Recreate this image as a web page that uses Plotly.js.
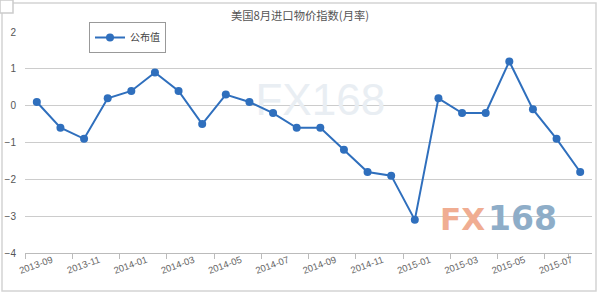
<!DOCTYPE html>
<html><head><meta charset="utf-8">
<script src="https://cdn.plot.ly/plotly-3.0.1.min.js"></script>
<style>html,body{margin:0;padding:0;background:#fff}#c{width:600px;height:296px}</style>
</head><body><div id="c"></div>
<script>
const categories = ["2013-09","2013-10","2013-11","2013-12","2014-01","2014-02","2014-03","2014-04","2014-05","2014-06","2014-07","2014-08","2014-09","2014-10","2014-11","2014-12","2015-01","2015-02","2015-03","2015-04","2015-05","2015-06","2015-07","2015-08"];
const values = [0.1,-0.6,-0.9,0.2,0.4,0.9,0.4,-0.5,0.3,0.1,-0.2,-0.6,-0.6,-1.2,-1.8,-1.9,-3.1,0.2,-0.2,-0.2,1.2,-0.1,-0.9,-1.8];
const seriesName = "公布值";
const titleText = "美国8月进口物价指数(月率)";
const yTicks = [-4,-3,-2,-1,0,1,2];
const watermark = "FX168";

const tickCats = categories.filter((c,i)=>i%2===0);
const W = 567, H = 221;
const wmTrace = {
  type:"scatter", mode:"text", x:["2014-09"], y:[0.05], text:[watermark],
  showlegend:false, hoverinfo:"skip",
  textfont:{family:"Liberation Sans, Arial, sans-serif", size:44, color:"#e9eef3"}
};
const trace = {
  type:"scatter", mode:"lines+markers", x:categories, y:values, name:seriesName,
  line:{color:"#2f6fbd", width:2}, marker:{color:"#2f6fbd", size:8}
};
const logoFont = (c)=>({family:"DejaVu Sans, sans-serif", size:31, weight:"bold", color:c});
const logoY = (253-218.5)/H;
const px = (p)=>(p-25)/W;
const layout = {
  width:600, height:296, margin:{l:25,r:8,t:32,b:43, autoexpand:false},
  paper_bgcolor:"#fff", plot_bgcolor:"#fff",
  title:{text:titleText, x:0.5, xanchor:"center", y:0.945, yanchor:"middle",
    font:{family:"Noto Sans CJK SC, sans-serif", size:11.3, color:"#555"}},
  showlegend:true,
  legend:{x:px(89), y:1+(32-22)/H, xanchor:"left", yanchor:"top",
    bgcolor:"#fff", bordercolor:"#999", borderwidth:1, tracegroupgap:0,
    font:{family:"Noto Sans CJK SC, serif", size:10, color:"#444"}, itemwidth:30},
  xaxis:{type:"category", categoryorder:"array", categoryarray:categories,
    tickson:"boundaries", tickmode:"array", tickvals:tickCats, ticktext:tickCats,
    tickangle:-20, ticks:"outside", ticklen:5, tickcolor:"#bbb", showgrid:false, ticklabelshift:15,
    ticklabelstandoff:-3,
    showline:true, linecolor:"#bbb", linewidth:1, zeroline:false, range:[-0.5,23.5],
    tickfont:{family:"Liberation Sans, Arial, sans-serif", size:9.5, color:"#666"}},
  yaxis:{range:[-4,2], tickvals:yTicks, showgrid:true, gridcolor:"#ccc", gridwidth:1, zeroline:false,
    showline:false, ticks:"", ticklabelstandoff:8,
    tickfont:{family:"Liberation Sans, Arial, sans-serif", size:10, color:"#555"}},
  shapes:[
    {type:"rect", xref:"paper", yref:"paper", x0:-23/W, x1:1+4/W, y0:-38/H, y1:1+29/H,
     line:{color:"#d4d4d4", width:1.5}, layer:"below"},
    {type:"rect", xref:"paper", yref:"paper", x0:-25/W, x1:-12/W, y0:1+19/H, y1:1+32/H,
     line:{color:"#ccc", width:1.5}, fillcolor:"#fff"},
    {type:"rect", xref:"paper", yref:"paper", x0:px(438), x1:px(577), y0:(253-232)/H, y1:(253-203)/H,
     line:{width:0}, fillcolor:"#fff", layer:"between"}
  ],
  annotations:[
    {text:"FX", xref:"paper", yref:"paper", x:px(486), xanchor:"right", y:logoY, yanchor:"middle", borderpad:0, showarrow:false, font:logoFont("#f0ad92")},
    {text:"168", xref:"paper", yref:"paper", x:px(487), xanchor:"left", y:logoY, yanchor:"middle", borderpad:0, showarrow:false, font:{...logoFont("#8eadc8"), size:33}}
  ]
};
Plotly.newPlot("c",[wmTrace, trace],layout,{displayModeBar:false,staticPlot:true});
</script></body></html>
